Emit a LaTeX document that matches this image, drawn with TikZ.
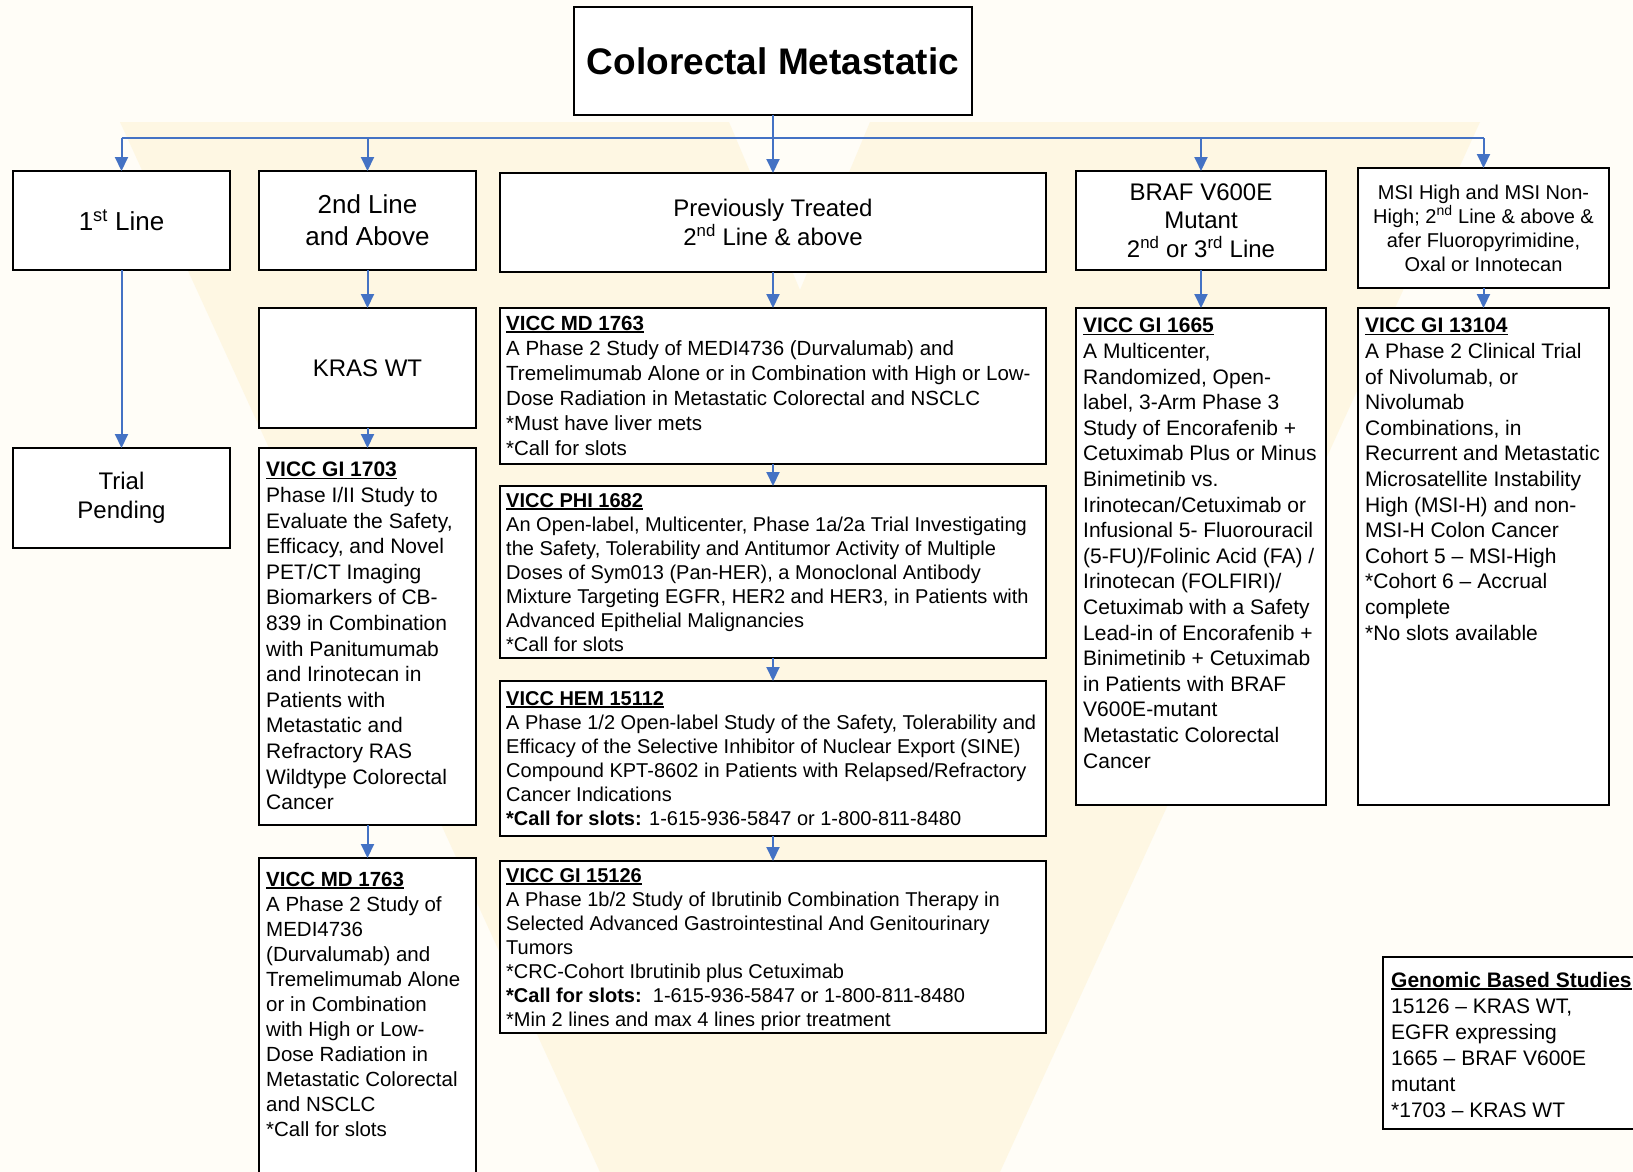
\documentclass[tikz,border=0pt]{standalone}
\usepackage{fontspec}
\setmainfont{Liberation Sans}
\usetikzlibrary{arrows.meta}
\definecolor{bgc}{RGB}{255,253,247}
\definecolor{vcol}{RGB}{254,247,227}
\definecolor{arrblue}{RGB}{68,114,196}
\newcommand\ulx[1]{\setbox0\hbox{#1}\rlap{\rule[-2.6pt]{\wd0}{1.7pt}}\box0}
\begin{document}
\begin{tikzpicture}[x=1pt,y=-1pt,
  box/.style={draw=black, line width=2.4pt, fill=white, rectangle, anchor=north west, inner sep=0pt, outer sep=0pt},
  hdr/.style={box, align=center, font=\fontsize{24}{29}\selectfont},
  bodyA/.style={anchor=north west, align=left, inner sep=0pt, font=\fontsize{21}{25.6}\selectfont},
  bodyB/.style={anchor=north west, align=left, inner sep=0pt, font=\fontsize{20.5}{25}\selectfont},
  bodyC/.style={anchor=north west, align=left, inner sep=0pt, font=\fontsize{20}{24}\selectfont},
  arr/.style={draw=arrblue, line width=2pt, -{Triangle[width=13pt,length=14pt]}},
  busline/.style={draw=arrblue, line width=2.2pt}]
\useasboundingbox (0,0) rectangle (1633,1172);
\clip (0,0) rectangle (1633,1172);
\fill[bgc] (0,0) rectangle (1633,1172);
\fill[vcol] (120,122) -- (729,122) -- (800,290) -- (870,122) -- (1480,122) -- (1000,1172) -- (600,1172) -- cycle;

% title
\node[box, minimum width=398, minimum height=108, font=\fontsize{37}{44}\selectfont\bfseries] (title) at (574,7) {Colorectal Metastatic};

% header row
\node[hdr, minimum width=217, minimum height=99, font=\fontsize{26}{32}\selectfont] (first) at (13,171) {1\textsuperscript{st} Line};
\node[hdr, minimum width=217, minimum height=99, font=\fontsize{26}{32}\selectfont] (second) at (259,171) {2nd Line\\and Above};
\node[hdr, minimum width=546, minimum height=99] (prev) at (500,173) {Previously Treated\\2\textsuperscript{nd} Line \& above};
\node[hdr, minimum width=250, minimum height=99, font=\fontsize{24}{28.6}\selectfont] (braf) at (1076,171) {BRAF V600E\\Mutant\\2\textsuperscript{nd} or 3\textsuperscript{rd} Line};
\node[hdr, minimum width=251, minimum height=120, font=\fontsize{20}{24}\selectfont] (msi) at (1358,168) {MSI High and MSI Non-\\High; 2\textsuperscript{nd} Line \& above \&\\afer Fluoropyrimidine,\\Oxal or Innotecan};

% second row headers
\node[hdr, minimum width=217, minimum height=100] (trial) at (13,448) {Trial\\Pending};
\node[hdr, minimum width=217, minimum height=120] (kras) at (259,308) {KRAS WT};

% body boxes
\node[box, minimum width=217, minimum height=377] (gi1703) at (259,448) {};
\node[bodyA] (gi1703t) at ([shift={(7,14)}]gi1703.north west) {\ulx{\textbf{VICC GI 1703}}\\Phase I/II Study to\\Evaluate the Safety,\\Efficacy, and Novel\\PET/CT Imaging\\Biomarkers of CB-\\839 in Combination\\with Panitumumab\\and Irinotecan in\\Patients with\\Metastatic and\\Refractory RAS\\Wildtype Colorectal\\Cancer};

\node[box, minimum width=217, minimum height=340] (mdL) at (259,858) {};
\node[bodyB] (mdLt) at ([shift={(7,14)}]mdL.north west) {\ulx{\textbf{VICC MD 1763}}\\A Phase 2 Study of\\MEDI4736\\(Durvalumab) and\\Tremelimumab Alone\\or in Combination\\with High or Low-\\Dose Radiation in\\Metastatic Colorectal\\and NSCLC\\*Call for slots};

\node[box, minimum width=546, minimum height=156] (mdM) at (500,308) {};
\node[bodyB] (mdMt) at ([shift={(6,8)}]mdM.north west) {\ulx{\textbf{VICC MD 1763}}\\A Phase 2 Study of MEDI4736 (Durvalumab) and\\Tremelimumab Alone or in Combination with High or Low-\\Dose Radiation in Metastatic Colorectal and NSCLC\\*Must have liver mets\\*Call for slots};

\node[box, minimum width=546, minimum height=172] (phi) at (500,486) {};
\node[bodyC] (phit) at ([shift={(6,7)}]phi.north west) {\ulx{\textbf{VICC PHI 1682}}\\An Open-label, Multicenter, Phase 1a/2a Trial Investigating\\the Safety, Tolerability and Antitumor Activity of Multiple\\Doses of Sym013 (Pan-HER), a Monoclonal Antibody\\Mixture Targeting EGFR, HER2 and HER3, in Patients with\\Advanced Epithelial Malignancies\\*Call for slots};

\node[box, minimum width=546, minimum height=155] (hem) at (500,681) {};
\node[bodyC] (hemt) at ([shift={(6,10)}]hem.north west) {\ulx{\textbf{VICC HEM 15112}}\\A Phase 1/2 Open-label Study of the Safety, Tolerability and\\Efficacy of the Selective Inhibitor of Nuclear Export (SINE)\\Compound KPT-8602 in Patients with Relapsed/Refractory\\Cancer Indications\\\textbf{*Call for slots:} 1-615-936-5847 or 1-800-811-8480};

\node[box, minimum width=546, minimum height=172] (gi15126) at (500,861) {};
\node[bodyC] (gi15126t) at ([shift={(6,7)}]gi15126.north west) {\ulx{\textbf{VICC GI 15126}}\\A Phase 1b/2 Study of Ibrutinib Combination Therapy in\\Selected Advanced Gastrointestinal And Genitourinary\\Tumors\\*CRC-Cohort Ibrutinib plus Cetuximab\\\textbf{*Call for slots:}\ \ 1-615-936-5847 or 1-800-811-8480\\*Min 2 lines and max 4 lines prior treatment};

\node[box, minimum width=250, minimum height=497] (gi1665) at (1076,308) {};
\node[bodyA] (gi1665t) at ([shift={(7,10)}]gi1665.north west) {\ulx{\textbf{VICC GI 1665}}\\A Multicenter,\\Randomized, Open-\\label, 3-Arm Phase 3\\Study of Encorafenib +\\Cetuximab Plus or Minus\\Binimetinib vs.\\Irinotecan/Cetuximab or\\Infusional 5- Fluorouracil\\(5-FU)/Folinic Acid (FA) /\\Irinotecan (FOLFIRI)/\\Cetuximab with a Safety\\Lead-in of Encorafenib +\\Binimetinib + Cetuximab\\in Patients with BRAF\\V600E-mutant\\Metastatic Colorectal\\Cancer};

\node[box, minimum width=251, minimum height=497] (gi13104) at (1358,308) {};
\node[bodyA] (gi13104t) at ([shift={(7,10)}]gi13104.north west) {\ulx{\textbf{VICC GI 13104}}\\A Phase 2 Clinical Trial\\of Nivolumab, or\\Nivolumab\\Combinations, in\\Recurrent and Metastatic\\Microsatellite Instability\\High (MSI-H) and non-\\MSI-H Colon Cancer\\Cohort 5 – MSI-High\\*Cohort 6 – Accrual\\complete\\*No slots available};

\node[box, minimum width=270, minimum height=172] (genomic) at (1383,957) {};
\node[bodyA, font=\fontsize{21}{26}\selectfont] (genomict) at ([shift={(8,15)}]genomic.north west) {\ulx{\textbf{Genomic Based Studies}}\\15126 – KRAS WT,\\EGFR expressing\\1665 – BRAF V600E\\mutant\\*1703 – KRAS WT};

% connectors
\coordinate (bus) at (773,138);
\draw[busline] (bus -| first.north) -- (bus -| msi.north);
\draw[arr] (title.south) -- (prev.north);
\draw[arr] (bus -| first.north) -- (first.north);
\draw[arr] (bus -| second.north) -- (second.north);
\draw[arr] (bus -| braf.north) -- (braf.north);
\draw[arr] (bus -| msi.north) -- (msi.north);
\draw[arr] (first.south) -- (trial.north);
\draw[arr] (second.south) -- (kras.north);
\draw[arr] (kras.south) -- (gi1703.north);
\draw[arr] (gi1703.south) -- (mdL.north);
\draw[arr] (prev.south) -- (mdM.north);
\draw[arr] (mdM.south) -- (phi.north);
\draw[arr] (phi.south) -- (hem.north);
\draw[arr] (hem.south) -- (gi15126.north);
\draw[arr] (braf.south) -- (gi1665.north);
\draw[arr] (msi.south) -- (gi13104.north);
\end{tikzpicture}
\end{document}
